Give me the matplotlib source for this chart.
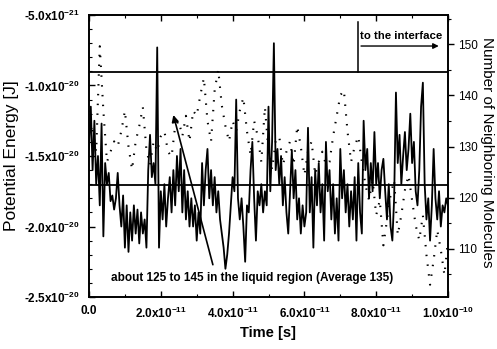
import numpy as np
import matplotlib
matplotlib.use("Agg")
import matplotlib.pyplot as plt
from matplotlib.ticker import FixedLocator, MultipleLocator

plt.rcParams['font.family'] = ['Liberation Sans', 'DejaVu Sans']
plt.rcParams['mathtext.default'] = 'regular'

# ---- data ----
# time grid for potential energy (units of 1e-11 s)
t_pe = np.linspace(0, 10, 201)
# potential energy (units of 1e-20 J)
pe = [-1.45, -1.15, -1.6, -1.25, -1.7, -1.5, -1.85, -1.27, -2.07, -1.55,
      -1.7, -1.62, -1.82, -1.78, -1.88, -1.8, -1.62, -1.85, -2.0, -1.78,
      -2.15, -1.85, -2.18, -1.9, -2.1, -1.85, -2.05, -1.88, -2.12, -1.9,
      -2.05, -1.95, -2.15, -1.6, -1.35, -1.65, -1.55, -1.7, -0.73, -2.15,
      -1.75, -1.95, -1.7, -2.0, -1.8, -1.65, -1.9, -1.6, -1.85, -1.5,
      -1.75, -1.45, -1.9, -1.6, -1.95, -1.75, -2.0, -1.8, -2.0, -1.85,
      -2.1, -1.9, -2.05, -1.55, -1.85, -1.6, -1.45, -1.8, -1.6, -1.85,
      -1.65, -1.9, -1.75, -1.95, -2.05, -2.15, -2.3, -2.2, -2.05, -1.85,
      -1.65, -1.75, -1.1, -1.8, -1.95, -1.8, -2.0, -2.25, -1.85, -1.9,
      -1.6, -1.4, -1.8, -2.1, -1.75, -1.85, -1.7, -1.9, -1.75, -1.85,
      -1.15, -1.75, -1.4, -0.70, -1.6, -1.45, -1.7, -1.5, -1.85, -1.65,
      -1.9, -2.05, -1.75, -1.46, -1.8, -1.6, -1.95, -1.8, -2.05, -1.85,
      -2.0, -1.9, -1.3, -1.9, -1.65, -2.15, -1.6, -1.85, -1.55, -1.9,
      -1.7, -2.1, -1.4, -1.75, -1.6, -1.95, -1.7, -2.05, -1.8, -2.1,
      -1.45, -1.8, -1.6, -1.9, -1.7, -2.0, -1.75, -1.95, -1.65, -2.1,
      -1.55, -1.9, -2.05, -1.25, -1.6, -1.45, -1.8, -1.55, -1.75, -1.33,
      -1.7, -1.55, -1.8, -1.6, -1.52, -1.75, -1.95, -1.7, -2.0, -2.1,
      -1.8, -1.05, -1.55, -1.35, -1.7, -1.5, -1.33, -1.6, -1.45, -1.2,
      -1.55, -1.4, -1.75, -1.85, -1.6, -1.15, -0.98, -1.7, -1.95, -1.8,
      -2.1, -1.85, -1.45, -1.8, -1.95, -1.75, -2.0, -1.85, -1.9, -1.8,
      -1.85]

# time grid for neighbours (units of 1e-11 s)
t_nb = np.linspace(0, 10, 101)
neighbors = [137, 133, 129, 149.6, 137, 127, 129, 131, 130, 133,
             137, 130, 125.5, 131, 134, 137.7, 129.3, 126.4, 131, 129,
             132, 133, 129, 128, 134, 135, 132, 136, 131, 137,
             136, 140, 143.4, 135, 131, 141, 145, 138, 134, 131,
             135, 133, 137, 139.6, 133, 128.3, 135, 132, 127, 137.7,
             129, 125.5, 131, 132, 126.4, 129, 131, 126.4, 134, 130,
             124.4, 129, 131, 124.5, 127, 129, 126.4, 127, 132, 136,
             140, 141, 133, 127, 130, 132, 127, 122.5, 119.5, 123.4,
             116.6, 119.5, 110.7, 115.6, 120.5, 123.4, 112.7, 116.6, 121.5, 124.4,
             119.5, 114.6, 111.7, 116.6, 108.8, 103, 107.8, 113.7, 109.8, 104.9,
             111.7]

# reference levels (potential energy units 1e-20 J)
upper_level = -0.904
lower_level = -1.706

left_ticks = [-0.5, -1.0, -1.5, -2.0, -2.5]
left_labels = ['-5.0x10$^{-21}$', '-1.0x10$^{-20}$', '-1.5x10$^{-20}$',
               '-2.0x10$^{-20}$', '-2.5x10$^{-20}$']
x_ticks = [0, 2, 4, 6, 8, 10]
x_labels = ['0.0', '2.0x10$^{-11}$', '4.0x10$^{-11}$', '6.0x10$^{-11}$',
            '8.0x10$^{-11}$', '1.0x10$^{-10}$']
right_ticks = [110, 120, 130, 140, 150]

E = 1e-20
T = 1e-11

# ---- figure ----
fig = plt.figure(figsize=(4.97, 3.49), dpi=100)
ax = fig.add_axes([89/497, 1-297/349, (448-89)/497, (297-15)/349])
ax2 = ax.twinx()

ax.plot(np.array(t_pe)*T, np.array(pe)*E, color='black', lw=1.3)
ax2.plot(t_nb*T, neighbors, color='black', lw=1.5, linestyle=(0, (0.7, 4.0)))

ax.axhline(upper_level*E, color='black', lw=1.3)
ax.axhline(lower_level*E, color='black', lw=1.3)

ax.set_xlim(0, 10*T)
ax.set_ylim(-2.5*E, -0.5*E)
ax2.set_ylim(100.6, 155.7)

ax.xaxis.set_major_locator(FixedLocator(np.array(x_ticks)*T))
ax.set_xticklabels(x_labels, fontsize=8.5, fontweight='bold')
ax.xaxis.set_minor_locator(MultipleLocator(1*T))
ax.yaxis.set_major_locator(FixedLocator(np.array(left_ticks)*E))
ax.set_yticklabels(left_labels, fontsize=8.5, fontweight='bold')
ax.yaxis.set_minor_locator(MultipleLocator(0.1*E))
ax.tick_params(which='both', direction='in', top=True, right=False)
ax.tick_params(which='major', length=4, width=1)
ax.tick_params(which='minor', length=2, width=0.8)
ax.tick_params(axis='y', pad=7)
ax.tick_params(axis='x', pad=6)

ax2.yaxis.set_major_locator(FixedLocator(right_ticks))
ax2.yaxis.set_minor_locator(MultipleLocator(5))
ax2.tick_params(which='both', direction='out', labelsize=8.5, pad=3)
ax2.tick_params(which='major', length=4, width=1)
ax2.tick_params(which='minor', length=2, width=0.8)

for a in (ax, ax2):
    for s in a.spines.values():
        s.set_linewidth(1.2)

ax.set_xlabel('Time [s]', fontsize=10.5, fontweight='bold', labelpad=4)
ax.set_ylabel('Potential Energy [J]', fontsize=12.5, labelpad=3)
fig.text(487/497, 1-152/349, 'Number of Neighboring Molecules', fontsize=11,
         rotation=-90, ha='center', va='center')

# annotations
ax.text(0.454, 0.067, 'about 125 to 145 in the liquid region (Average 135)',
        transform=ax.transAxes, ha='center', va='center', fontsize=8.5, fontweight='bold')
ax.annotate('', xy=(2.33*T, -1.19*E), xytext=(3.47*T, -2.29*E),
            arrowprops=dict(arrowstyle='-|>', lw=1.2, color='black', mutation_scale=10))

ax.text(0.756, 0.925, 'to the interface', transform=ax.transAxes,
        ha='left', va='center', fontsize=8.2, fontweight='bold')
ax.plot([0.748, 0.748], [0.798, 0.975], transform=ax.transAxes, color='black', lw=1.1)
ax.annotate('', xy=(0.982, 0.89), xytext=(0.75, 0.89), xycoords='axes fraction',
            arrowprops=dict(arrowstyle='-|>', lw=1.0, color='black', mutation_scale=8))

fig.savefig('out.png', dpi=100)
